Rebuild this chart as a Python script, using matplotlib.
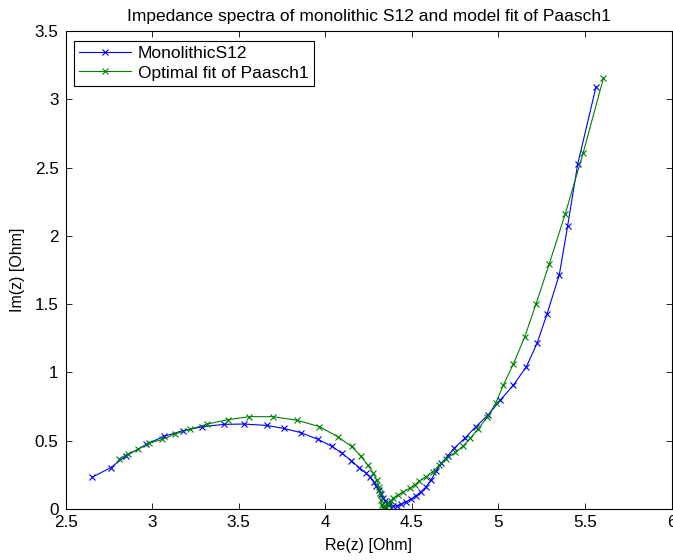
import matplotlib
matplotlib.use("Agg")
import matplotlib.pyplot as plt
import numpy as np

plt.rcParams['font.family'] = ['Liberation Sans', 'DejaVu Sans']

# Measured spectrum (MonolithicS12)
re_meas = [2.653, 2.760, 2.852, 2.967, 3.067, 3.179, 3.288, 3.417, 3.531, 3.662,
           3.760, 3.860, 3.958, 4.040, 4.096, 4.151, 4.196, 4.237, 4.260, 4.279,
           4.295, 4.308, 4.321, 4.333, 4.344, 4.356, 4.371, 4.390, 4.413, 4.439,
           4.468, 4.497, 4.525, 4.554, 4.583, 4.612, 4.640, 4.670, 4.708, 4.746,
           4.810, 4.870, 4.940, 5.010, 5.087, 5.162, 5.224, 5.281, 5.352, 5.400,
           5.458, 5.564]
im_meas = [0.232, 0.302, 0.390, 0.473, 0.532, 0.573, 0.602, 0.620, 0.622, 0.612,
           0.590, 0.559, 0.510, 0.458, 0.408, 0.354, 0.303, 0.262, 0.232, 0.200,
           0.168, 0.139, 0.110, 0.083, 0.061, 0.042, 0.027, 0.020, 0.024, 0.034,
           0.053, 0.073, 0.098, 0.127, 0.163, 0.215, 0.275, 0.334, 0.390, 0.446,
           0.523, 0.603, 0.687, 0.795, 0.908, 1.042, 1.215, 1.428, 1.715, 2.072,
           2.523, 3.092]

# Model fit (Paasch1)
re_fit = [2.808, 2.861, 2.919, 2.982, 3.060, 3.131, 3.217, 3.319, 3.437, 3.562,
          3.700, 3.836, 3.965, 4.072, 4.152, 4.205, 4.246, 4.275, 4.298, 4.310,
          4.318, 4.323, 4.329, 4.332, 4.335, 4.338, 4.342, 4.346, 4.352, 4.360,
          4.370, 4.380, 4.390, 4.419, 4.448, 4.487, 4.516, 4.544, 4.583, 4.621,
          4.660, 4.700, 4.750, 4.798, 4.837, 4.883, 4.937, 4.985, 5.029, 5.087,
          5.152, 5.218, 5.294, 5.386, 5.490, 5.607]
im_fit = [0.366, 0.403, 0.437, 0.481, 0.510, 0.549, 0.583, 0.622, 0.654, 0.676,
          0.676, 0.650, 0.604, 0.530, 0.458, 0.388, 0.322, 0.266, 0.212, 0.163,
          0.115, 0.066, 0.029, 0.015, 0.008, 0.005, 0.006, 0.010, 0.018, 0.030,
          0.045, 0.060, 0.078, 0.100, 0.125, 0.151, 0.176, 0.205, 0.237, 0.273,
          0.322, 0.368, 0.414, 0.463, 0.517, 0.587, 0.673, 0.776, 0.908, 1.063,
          1.259, 1.503, 1.795, 2.160, 2.608, 3.155]

x_ticks = [2.5, 3, 3.5, 4, 4.5, 5, 5.5, 6]
x_labels = ["2.5", "3", "3.5", "4", "4.5", "5", "5.5", "6"]
y_ticks = [0, 0.5, 1, 1.5, 2, 2.5, 3, 3.5]
y_labels = ["0", "0.5", "1", "1.5", "2", "2.5", "3", "3.5"]

W, H = 673, 560
fig = plt.figure(figsize=(W / 100, H / 100), dpi=100)
left, right, bottom, top = 65.5, 671.5, 509, 31
ax = fig.add_axes([left / W, 1 - bottom / H, (right - left) / W, (bottom - top) / H])

ax.plot(re_meas, im_meas, color='#0000ff', lw=0.8, marker='x', ms=4, mew=0.8,
        label='MonolithicS12')
ax.plot(re_fit, im_fit, color='#008000', lw=0.8, marker='x', ms=4, mew=0.8,
        label='Optimal fit of Paasch1')

ax.set_xlim(2.5, 6)
ax.set_ylim(0, 3.5)
ax.set_xticks(x_ticks)
ax.set_xticklabels(x_labels)
ax.set_yticks(y_ticks)
ax.set_yticklabels(y_labels)
ax.tick_params(direction='in', length=4, width=0.6, top=True, right=True,
               labelsize=12.3, colors='black')
ax.tick_params(axis='y', pad=5)
ax.tick_params(axis='x', pad=4.5)
for s in ax.spines.values():
    s.set_linewidth(0.8)
    s.set_color('black')

ax.set_xlabel('Re(z) [Ohm]', fontsize=11.5, labelpad=5.5)
ax.set_ylabel('Im(z) [Ohm]', fontsize=11.5, labelpad=7)
ax.set_title('Impedance spectra of monolithic S12 and model fit of Paasch1',
             fontsize=12.5, pad=7)

leg = ax.legend(loc='upper left', bbox_to_anchor=((73.8 - left) / (right - left), 1 - (40.7 - top) / (bottom - top)),
                fontsize=12.5, fancybox=False, framealpha=1, edgecolor='black',
                borderaxespad=0, handlelength=3.0, handletextpad=0.4,
                labelspacing=0.25, borderpad=0.3)
leg.get_frame().set_linewidth(0.8)

fig.savefig('out.png', dpi=100)
